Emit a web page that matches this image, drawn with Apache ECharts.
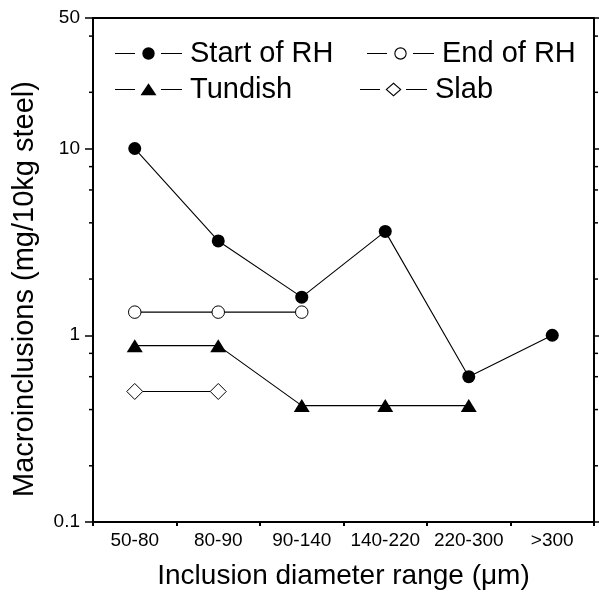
<!DOCTYPE html>
<html>
<head>
<meta charset="utf-8">
<script src="https://cdn.jsdelivr.net/npm/echarts@6/dist/echarts.min.js"></script>
<style>html,body{margin:0;padding:0;background:#fff;}#c{width:599px;height:595px;}</style>
</head>
<body>
<div id="c"></div>
<script>
const categories = ['50-80', '80-90', '90-140', '140-220', '220-300', '>300'];
const startRH = [10, 3.2, 1.6, 3.6, 0.6, 1.0];
const endRH = [1.33, 1.33, 1.33, null, null, null];
const tundish = [0.88, 0.88, 0.42, 0.42, 0.42, null];
const slab = [0.5, 0.5, null, null, null, null];
const minorTickValues = [0.2, 0.4, 0.6, 0.8, 2, 4, 6, 8, 20, 40];

const FONT = '"Liberation Sans", Arial, sans-serif';
const chart = echarts.init(document.getElementById('c'), null, {renderer: 'canvas'});

// legend icon paths (67 x 16 box): line - symbol - line
const box = 'M0 0 L0.01 0 L0.01 0.01 Z M66.99 16 L67 16 L67 15.99 Z ';
const lineL = 'M0 7.45 L20 7.45 L20 8.55 L0 8.55 Z ';
const lineR = 'M46 7.45 L67 7.45 L67 8.55 L46 8.55 Z ';
const iconFilledCircle = 'path://' + box + lineL + 'M27.3 8 A6.2 6.2 0 1 0 39.7 8 A6.2 6.2 0 1 0 27.3 8 Z ' + lineR;
const iconEmptyCircle = 'path://' + box + lineL + 'M27.3 8 A6.2 6.2 0 1 0 39.7 8 A6.2 6.2 0 1 0 27.3 8 Z M28.4 8 A5.1 5.1 0 1 1 38.6 8 A5.1 5.1 0 1 1 28.4 8 Z ' + lineR;
const iconTriangle = 'path://' + box + lineL + 'M33.5 1.8 L41.5 13.8 L25.5 13.8 Z ' + lineR;
const iconDiamond = 'path://' + box + lineL + 'M33.5 1 L41.5 8 L33.5 15 L25.5 8 Z M33.5 2.5 L27.2 8 L33.5 13.5 L39.8 8 Z ' + lineR;

function legendItem(name, icon, left, top) {
  return {
    data: [name], icon: icon, left: left, top: top, padding: 0,
    itemWidth: 67, itemHeight: 16, selectedMode: false,
    itemStyle: {color: '#000', borderWidth: 0},
    textStyle: {fontFamily: FONT, fontSize: 29, color: '#000', padding: [0, 0, 0, 3]}
  };
}

const lineStyle = {color: '#000', width: 1.1};

chart.setOption({
  animation: false,
  backgroundColor: '#fff',
  grid: {left: 93, right: 5, top: 18, bottom: 73, show: true, borderColor: '#000', borderWidth: 2, backgroundColor: 'transparent'},
  legend: [
    legendItem('Start of RH', iconFilledCircle, 115, 39),
    legendItem('End of RH', iconEmptyCircle, 367, 39),
    legendItem('Tundish', iconTriangle, 115, 75),
    legendItem('Slab', iconDiamond, 360, 75)
  ],
  xAxis: {
    type: 'category', data: categories, boundaryGap: true,
    name: 'Inclusion diameter range (\u03bcm)', nameLocation: 'middle', nameGap: 40,
    nameTextStyle: {fontFamily: FONT, fontSize: 28, color: '#000'},
    axisLine: {lineStyle: {color: '#000', width: 2}},
    axisTick: {show: true, alignWithLabel: false, length: 4, lineStyle: {color: '#000', width: 2}},
    axisLabel: {fontFamily: FONT, fontSize: 19, color: '#000', margin: 9, interval: 0},
    splitLine: {show: false}
  },
  yAxis: [{
    type: 'log', logBase: 10, min: 0.1, max: 50, position: 'left',
    name: 'Macroinclusions (mg/10kg steel)', nameLocation: 'middle', nameGap: 54,
    nameTextStyle: {fontFamily: FONT, fontSize: 29, color: '#000', padding: [0, 38, 0, 0]},
    axisLine: {show: true, lineStyle: {color: '#000', width: 2}},
    axisTick: {show: true, length: 8, lineStyle: {color: '#000', width: 1.5}},
    axisLabel: {fontFamily: FONT, fontSize: 19, color: '#000', margin: 13,
      formatter: function (v) { return String(Math.round(v * 1000) / 1000); }},
    splitLine: {show: false}
  }, {
    type: 'log', logBase: 10, min: 0.1, max: 50, position: 'right',
    axisLine: {show: true, lineStyle: {color: '#000', width: 2}},
    axisTick: {show: true, length: 5, lineStyle: {color: '#000', width: 1.5}},
    axisLabel: {show: false},
    splitLine: {show: false}
  }],
  series: [
    {name: 'Start of RH', type: 'line', data: startRH, symbol: 'circle', symbolSize: 13,
      itemStyle: {color: '#000'}, lineStyle: lineStyle, connectNulls: false},
    {name: 'End of RH', type: 'line', data: endRH, symbol: 'circle', symbolSize: 12.5,
      itemStyle: {color: '#fff', borderColor: '#000', borderWidth: 1}, lineStyle: lineStyle},
    {name: 'Tundish', type: 'line', data: tundish, symbol: 'triangle', symbolSize: [16, 13],
      itemStyle: {color: '#000'}, lineStyle: lineStyle},
    {name: 'Slab', type: 'line', data: slab, symbol: 'diamond', symbolSize: [16, 16],
      itemStyle: {color: '#fff', borderColor: '#000', borderWidth: 1}, lineStyle: lineStyle},
    {
      name: 'minorTicks', type: 'custom', silent: true, clip: false, z: 10,
      data: minorTickValues.map(function (v) { return [0, v]; }),
      renderItem: function (params, api) {
        const cs = params.coordSys;
        const y = api.coord([0, api.value(1)])[1];
        return {
          type: 'group',
          children: [
            {type: 'line', shape: {x1: cs.x - 4, y1: y, x2: cs.x, y2: y}, style: {stroke: '#000', lineWidth: 1.5}},
            {type: 'line', shape: {x1: cs.x + cs.width, y1: y, x2: cs.x + cs.width + 4, y2: y}, style: {stroke: '#000', lineWidth: 1.5}}
          ]
        };
      }
    }
  ]
});
</script>
</body>
</html>
